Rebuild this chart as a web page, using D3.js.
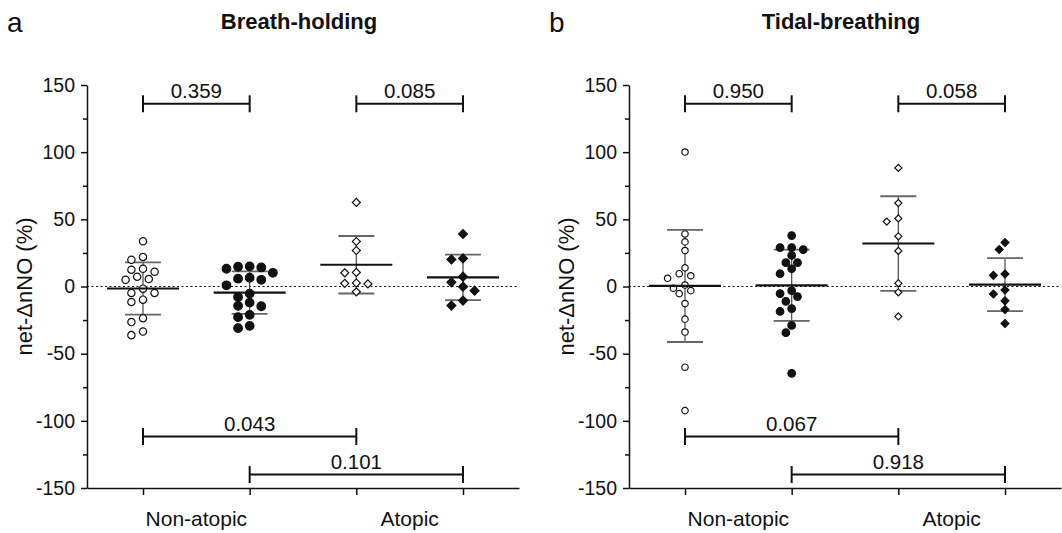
<!DOCTYPE html>
<html>
<head>
<meta charset="utf-8">
<script src="https://cdn.jsdelivr.net/npm/d3@7"></script>
<style>
  body { margin: 0; background: #fff; }
  svg { display: block; font-family: "Liberation Sans", Arial, sans-serif; }
</style>
</head>
<body>
<div id="plot"></div>
<script>
const w = 1062;
const h = 533;

// category labels under the x axis
const categories = ["Non-atopic", "Atopic"];
const yTicks = [-150, -100, -50, 0, 50, 100, 150];

// Breath-holding, net-dnNO (%) per subject
const bhNonAtopicOpen = [33.7, 22, 19.9, 12.5, 11, 13.2, 7.3, 5, 5.5, -1.6, -4.8, -4.8, -11.5, -9.8, -23.6, -26.5, -33.5, -36.2];
const bhNonAtopicFilled = [15, 14.2, 13.2, 14.7, 10.2, 6.5, 5, 5.8, 0.9, -5.3, -7.8, -14.7, -12, -14.4, -22.8, -21.1, -31, -29.3];
const bhAtopicOpen = [62.6, 33.5, 26.8, 10.5, 10.2, 2.4, 1.9, 2.6, -4];
const bhAtopicFilled = [39.1, 20.9, 20.1, 7.3, 3.1, -0.1, -3.1, -10.5, -14.2];
const bhMeans = [-1.5, -4.6, 16.2, 6.8];
const bhSds = [19.4, 15.8, 21.4, 17];

// Tidal-breathing
const tbNonAtopicOpen = [100.1, 39.1, 33.2, 26.8, 13.9, 9.5, 6.1, 8, 1.1, -1.3, -3.1, -5.3, -12.7, -24.3, -33.9, -60.1, -92.4];
const tbNonAtopicFilled = [37.9, 29, 27.5, 29, 23.1, 17.7, 17.7, 13.2, 9.5, -3.1, -5.3, -7.5, -11, -16.4, -18.6, -29, -34.4, -64.6];
const tbAtopicOpen = [88.3, 62.1, 48.3, 50.7, 37.4, 26.5, 2.4, -4.3, -22.3];
const tbAtopicFilled = [32.7, 27.5, 9.3, 8.3, -2.6, -5.6, -10.7, -17.2, -27.6];
const tbMeans = [0.4, 0.9, 32, 1.4];
const tbSds = [41.7, 26.5, 35.2, 19.7];

// p-values between groups (group index from, to, level in %)
const bhPvals = [[0, 1, "0.359", 136], [2, 3, "0.085", 136], [0, 2, "0.043", -111.7], [1, 3, "0.101", -140]];
const tbPvals = [[0, 1, "0.950", 136], [2, 3, "0.058", 136], [0, 2, "0.067", -111.7], [1, 3, "0.918", -140]];

const markers = ["circleOpen", "circleFilled", "diamondOpen", "diamondFilled"];

const svg = d3.select("#plot").
append("svg").
attr("width", w).
attr("height", h);

svg.append("rect").attr("width", w).attr("height", h).attr("fill", "#fff");

const yScale = d3.scaleLinear().domain([-150, 150]).range([488, 85]);

// simple beeswarm: spread points of similar value sideways
function swarm(values, cx, minDist) {
  const step = 5.8;
  const order = values.map((v, i) => i).sort((a, b) => values[b] - values[a]);
  const placed = [];
  const out = new Array(values.length);
  order.forEach(i => {
    const y = yScale(values[i]);
    for (let k = 0; k < 20; k++) {
      const slot = k === 0 ? 0 : (k % 2 ? -Math.ceil(k / 2) : Math.ceil(k / 2));
      const x = cx + slot * step;
      const hit = placed.some(p => Math.hypot(p[0] - x, p[1] - y) < minDist);
      if (!hit) {
        placed.push([x, y]);
        out[i] = [x, y];
        break;
      }
    }
  });
  return out;
}

function drawPanel(offset, letter, title, series, means, sds, pvals, mk) {
  const g = svg.append("g").attr("transform", "translate(" + offset + ",0)");

  const xScale = d3.scaleLinear().domain([0.475, 4.525]).range([87, 519]);

  // y axis, major + minor
  g.append("g").
  attr("transform", "translate(" + xScale(0.475) + ",0)").
  call(d3.axisLeft(yScale).tickValues(d3.range(-125, 150, 50)).tickSize(4).tickFormat("")).
  call(a => a.select(".domain").remove());

  g.append("g").
  attr("class", "yaxis").
  attr("transform", "translate(" + xScale(0.475) + ",0)").
  call(d3.axisLeft(yScale).tickValues(yTicks).tickSize(6).tickSizeOuter(0).tickPadding(6).tickFormat(d => String(d)));

  // x axis
  g.append("g").
  attr("transform", "translate(0," + yScale(-150) + ")").
  call(d3.axisBottom(xScale).tickValues([1, 2, 3, 4]).tickSize(7).tickSizeOuter(0).tickFormat(""));

  g.selectAll(".tick line, .domain").attr("stroke", "#111").attr("stroke-width", 1.5);
  g.selectAll(".tick text").attr("font-size", 19.5).attr("fill", "#111");

  // zero reference line
  g.append("line").
  attr("x1", xScale(0.475)).
  attr("x2", xScale(4.525)).
  attr("y1", yScale(0)).
  attr("y2", yScale(0)).
  attr("stroke", "#111").
  attr("stroke-width", 1.2).
  attr("stroke-dasharray", "2,2.5");

  // category labels
  g.selectAll(".cat").
  data(categories).
  enter().
  append("text").
  attr("x", (d, i) => xScale(1.5 + i * 2)).
  attr("y", 526).
  attr("text-anchor", "middle").
  attr("font-size", 21).
  attr("fill", "#111").
  text(d => d);

  // y label
  g.append("text").
  attr("transform", "translate(" + (xScale(0.475) - 55) + "," + yScale(0) + ") rotate(-90)").
  attr("text-anchor", "middle").
  attr("font-size", 22).
  attr("fill", "#111").
  text("net-\u0394nNO (%)");

  // panel letter and title
  g.append("text").attr("x", 7).attr("y", 32).attr("font-size", 28).attr("fill", "#111").text(letter);
  g.append("text").
  attr("x", 299).
  attr("y", 29).
  attr("text-anchor", "middle").
  attr("font-size", 22).
  attr("font-weight", "bold").
  attr("fill", "#111").
  text(title);

  // mean and SD bars
  means.forEach((m, i) => {
    const cx = xScale(i + 1);
    g.append("line").
    attr("x1", cx).attr("x2", cx).
    attr("y1", yScale(m + sds[i])).attr("y2", yScale(m - sds[i])).
    attr("stroke", "#555").attr("stroke-width", 1.3);
    [m + sds[i], m - sds[i]].forEach(v => {
      g.append("line").
      attr("x1", cx - 18).attr("x2", cx + 18).
      attr("y1", yScale(v)).attr("y2", yScale(v)).
      attr("stroke", "#666").attr("stroke-width", 1.8);
    });
  });

  // points
  series.forEach((vals, i) => {
    const pts = swarm(vals, xScale(i + 1), 8.8 * mk);
    const kind = markers[i];
    const filled = kind.endsWith("Filled");
    const isDiamond = kind.startsWith("diamond");
    const size = (isDiamond ? (filled ? 40 : 32) : (filled ? 58 : 42)) * mk * mk;
    g.selectAll(".pt" + i).
    data(pts).
    enter().
    append("path").
    attr("d", d3.symbol().type(isDiamond ? d3.symbolSquare : d3.symbolCircle).size(size)()).
    attr("transform", d => "translate(" + d[0] + "," + d[1] + ")" + (isDiamond ? " rotate(45)" : "")).
    attr("fill", filled ? "#111" : "#fff").
    attr("stroke", "#111").
    attr("stroke-width", 1.2);
  });

  // mean lines on top
  means.forEach((m, i) => {
    const cx = xScale(i + 1);
    g.append("line").
    attr("x1", cx - 36).attr("x2", cx + 36).
    attr("y1", yScale(m)).attr("y2", yScale(m)).
    attr("stroke", "#111").attr("stroke-width", 2.2);
  });

  // p-value brackets
  pvals.forEach(p => {
    const x1 = xScale(p[0] + 1);
    const x2 = xScale(p[1] + 1);
    const y = yScale(p[3]);
    g.append("line").attr("x1", x1).attr("x2", x2).attr("y1", y).attr("y2", y).attr("stroke", "#111").attr("stroke-width", 2);
    [x1, x2].forEach(x => {
      g.append("line").attr("x1", x).attr("x2", x).attr("y1", y - 8.5).attr("y2", y + 8.5).attr("stroke", "#111").attr("stroke-width", 2);
    });
    g.append("text").
    attr("x", (x1 + x2) / 2).
    attr("y", y - 6).
    attr("text-anchor", "middle").
    attr("font-size", 20.5).
    attr("fill", "#111").
    text(p[2]);
  });
}

drawPanel(0, "a", "Breath-holding",
[bhNonAtopicOpen, bhNonAtopicFilled, bhAtopicOpen, bhAtopicFilled], bhMeans, bhSds, bhPvals, 1);
drawPanel(542, "b", "Tidal-breathing",
[tbNonAtopicOpen, tbNonAtopicFilled, tbAtopicOpen, tbAtopicFilled], tbMeans, tbSds, tbPvals, 0.88);
</script>
</body>
</html>
